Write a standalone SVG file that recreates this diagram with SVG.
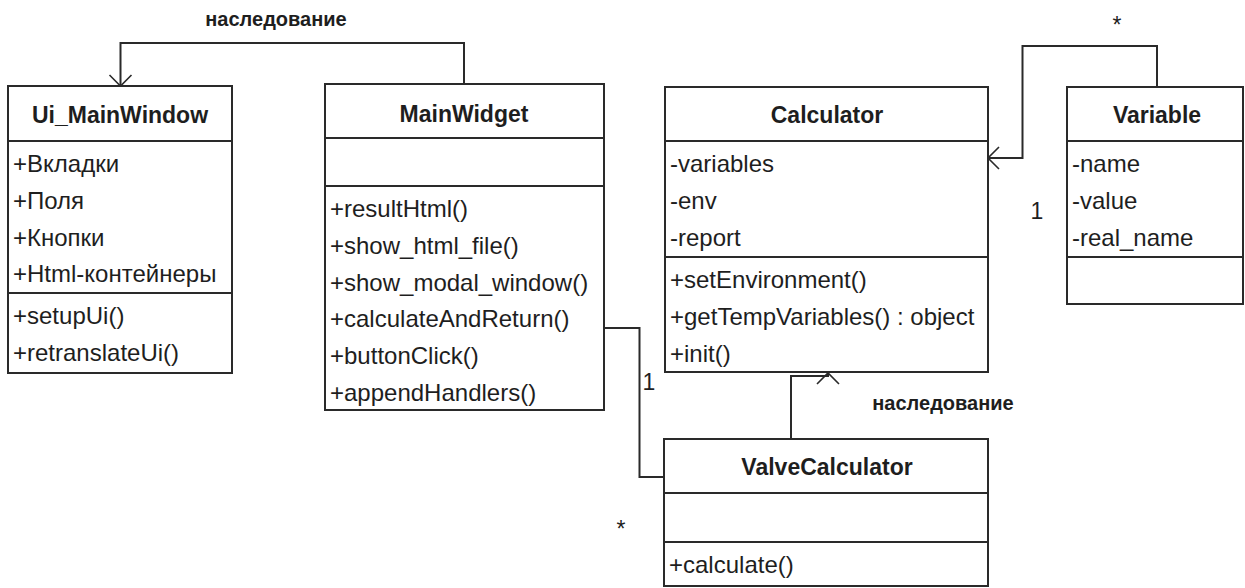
<svg xmlns="http://www.w3.org/2000/svg" width="1245" height="588" viewBox="0 0 1245 588">
  <style>
    .box { fill: #ffffff; stroke: #2a2a2a; stroke-width: 2; }
    .div { stroke: #2a2a2a; stroke-width: 2; }
    .title { font-family: "Liberation Sans", Arial, sans-serif; font-size: 23px; font-weight: bold; fill: #1e1e1e; text-anchor: middle; }
    .item { font-family: "Liberation Sans", Arial, sans-serif; font-size: 24px; fill: #1e1e1e; }
    .lbl { font-family: "Liberation Sans", Arial, sans-serif; font-size: 20px; font-weight: bold; fill: #1e1e1e; text-anchor: middle; }
    .mult { font-family: "Liberation Sans", Arial, sans-serif; font-size: 23px; fill: #1e1e1e; text-anchor: middle; }
    .conn { fill: none; stroke: #2a2a2a; stroke-width: 2; }
  </style>
  <defs>
    <marker id="open" viewBox="-13 -13 15 26" markerWidth="15" markerHeight="26" refX="0" refY="0" orient="auto" markerUnits="userSpaceOnUse" overflow="visible">
      <path d="M-11,-11 L0,0 L-11,11" fill="none" stroke="#2a2a2a" stroke-width="1.6"/>
    </marker>
  </defs>
  <rect width="1245" height="588" fill="#ffffff"/>

  <g id="connectors">
    <path class="conn" d="M464,84 V43 H120.5 V86" marker-end="url(#open)"/>
    <text class="lbl" x="276" y="26">наследование</text>
    <path class="conn" d="M1157,87 V46 H1022.5 V158 H988" marker-end="url(#open)"/>
    <text class="mult" x="1117" y="33">*</text>
    <text class="mult" x="1037" y="219">1</text>
    <path class="conn" d="M827,439 H791 V376 H828 V373" marker-end="url(#open)"/>
    <text class="lbl" x="943" y="410">наследование</text>
    <path class="conn" d="M604,328 H639.5 V477 H664"/>
    <text class="mult" x="649" y="390">1</text>
    <text class="mult" x="621" y="537">*</text>
  </g>

  <g id="Ui_MainWindow">
    <rect class="box" x="8" y="86" width="224" height="287"/>
    <line class="div" x1="8" y1="141" x2="232" y2="141"/>
    <line class="div" x1="8" y1="293" x2="232" y2="293"/>
    <text class="title" x="120" y="123">Ui_MainWindow</text>
    <text class="item" x="13" y="172">+Вкладки</text>
    <text class="item" x="13" y="208.8">+Поля</text>
    <text class="item" x="13" y="245.6">+Кнопки</text>
    <text class="item" x="13" y="282.4">+Html-контейнеры</text>
    <text class="item" x="13" y="324">+setupUi()</text>
    <text class="item" x="13" y="360.8">+retranslateUi()</text>
  </g>

  <g id="MainWidget">
    <rect class="box" x="325" y="84" width="279" height="326"/>
    <line class="div" x1="325" y1="138" x2="604" y2="138"/>
    <line class="div" x1="325" y1="186" x2="604" y2="186"/>
    <text class="title" x="464" y="122">MainWidget</text>
    <text class="item" x="330" y="217">+resultHtml()</text>
    <text class="item" x="330" y="253.8">+show_html_file()</text>
    <text class="item" x="330" y="290.6">+show_modal_window()</text>
    <text class="item" x="330" y="327.4">+calculateAndReturn()</text>
    <text class="item" x="330" y="364.2">+buttonClick()</text>
    <text class="item" x="330" y="401">+appendHandlers()</text>
  </g>

  <g id="Calculator">
    <rect class="box" x="665" y="87" width="323" height="285"/>
    <line class="div" x1="665" y1="141" x2="988" y2="141"/>
    <line class="div" x1="665" y1="257" x2="988" y2="257"/>
    <text class="title" x="827" y="123">Calculator</text>
    <text class="item" x="670" y="172">-variables</text>
    <text class="item" x="670" y="208.8">-env</text>
    <text class="item" x="670" y="245.6">-report</text>
    <text class="item" x="670" y="288">+setEnvironment()</text>
    <text class="item" x="670" y="324.8">+getTempVariables() : object</text>
    <text class="item" x="670" y="361.6">+init()</text>
  </g>

  <g id="Variable">
    <rect class="box" x="1067" y="87" width="176" height="217"/>
    <line class="div" x1="1067" y1="141" x2="1243" y2="141"/>
    <line class="div" x1="1067" y1="257" x2="1243" y2="257"/>
    <text class="title" x="1157" y="123">Variable</text>
    <text class="item" x="1072" y="172">-name</text>
    <text class="item" x="1072" y="208.8">-value</text>
    <text class="item" x="1072" y="245.6">-real_name</text>
  </g>

  <g id="ValveCalculator">
    <rect class="box" x="664" y="439" width="324" height="147"/>
    <line class="div" x1="664" y1="493" x2="988" y2="493"/>
    <line class="div" x1="664" y1="542" x2="988" y2="542"/>
    <text class="title" x="827" y="475">ValveCalculator</text>
    <text class="item" x="669" y="573">+calculate()</text>
  </g>
</svg>
